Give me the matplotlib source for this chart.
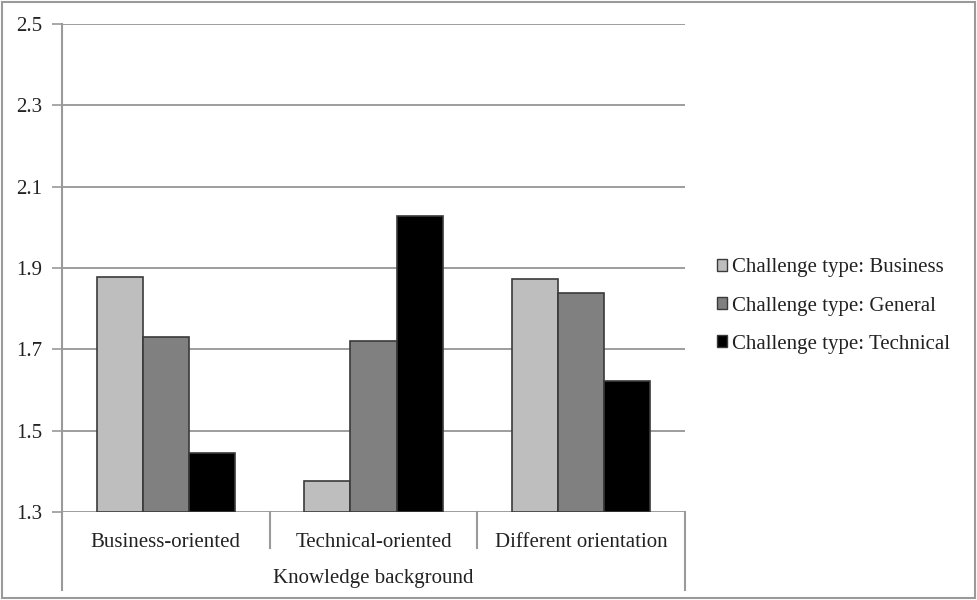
import matplotlib
matplotlib.use("Agg")
import matplotlib.pyplot as plt
from matplotlib.patches import Rectangle, Patch
import numpy as np

categories = ["Business-oriented", "Technical-oriented", "Different orientation"]
series_names = ["Challenge type: Business", "Challenge type: General", "Challenge type: Technical"]
business = [1.878, 1.376, 1.873]
general = [1.730, 1.720, 1.839]
technical = [1.445, 2.028, 1.622]
yticks = [1.3, 1.5, 1.7, 1.9, 2.1, 2.3, 2.5]
xlabel = "Knowledge background"

colors = ["#BEBEBE", "#808080", "#000000"]
edge = "#3a3a3a"
fs = 15

plt.rcParams['font.family'] = ['Liberation Serif', 'DejaVu Serif']

fig = plt.figure(figsize=(9.78, 6.0), dpi=100)
ax = fig.add_axes([62/978, 88/600, (685-62)/978, (512-24)/600])

x = np.arange(len(categories))
w = 0.222
for i, (vals, c) in enumerate(zip([business, general, technical], colors)):
    ax.bar(x + (i - 1) * w, np.array(vals) - 1.3, bottom=1.3, width=w, color=c,
           edgecolor=edge, linewidth=1.2, zorder=3)

ax.set_xlim(-0.5, 2.5)
ax.set_ylim(1.3, 2.5)
ax.set_yticks(yticks)
ax.set_yticklabels([f"{v:.1f}" for v in yticks], fontsize=fs, color="#222222")
ax.yaxis.grid(True, color="#8c8c8c", linewidth=1.2, zorder=0)
ax.set_axisbelow(True)
for s in ["top", "right", "bottom"]:
    ax.spines[s].set_visible(False)
ax.spines["left"].set_color("#9a9a9a")
ax.spines["left"].set_linewidth(1.5)
ax.tick_params(axis='y', length=7, color="#9a9a9a", width=1.2, pad=7)
ax.set_xticks(x)
ax.set_xticklabels(categories, fontsize=fs, color="#222222")
ax.tick_params(axis='x', length=0, pad=15)

trans = ax.get_xaxis_transform()
ph = 488.0
for xv in [0.5, 1.5]:
    ax.plot([xv, xv], [0, -36/ph], transform=trans, color="#9a9a9a", lw=1.5, clip_on=False)
for xv in [-0.5, 2.5]:
    ax.plot([xv, xv], [0, -78/ph], transform=trans, color="#9a9a9a", lw=1.5, clip_on=False)

ax.text(1.0, -66/ph, xlabel, transform=trans, ha='center', va='center', fontsize=fs, color="#222222")

handles = [Patch(facecolor=c, edgecolor=edge, linewidth=1.0) for c in colors]
leg = fig.legend(handles, series_names, loc='center left', bbox_to_anchor=(717/978, 1 - 306/600),
                 frameon=False, fontsize=fs, handlelength=0.5, handleheight=0.5,
                 handletextpad=0.2, labelspacing=0.92, borderaxespad=0, borderpad=0)
for t in leg.get_texts():
    t.set_color("#222222")

fig.patches.append(Rectangle((0.002, 0.003), 0.995, 0.994, transform=fig.transFigure,
                             fill=False, edgecolor="#9a9a9a", linewidth=1.5))

fig.savefig("out.png", dpi=100)
